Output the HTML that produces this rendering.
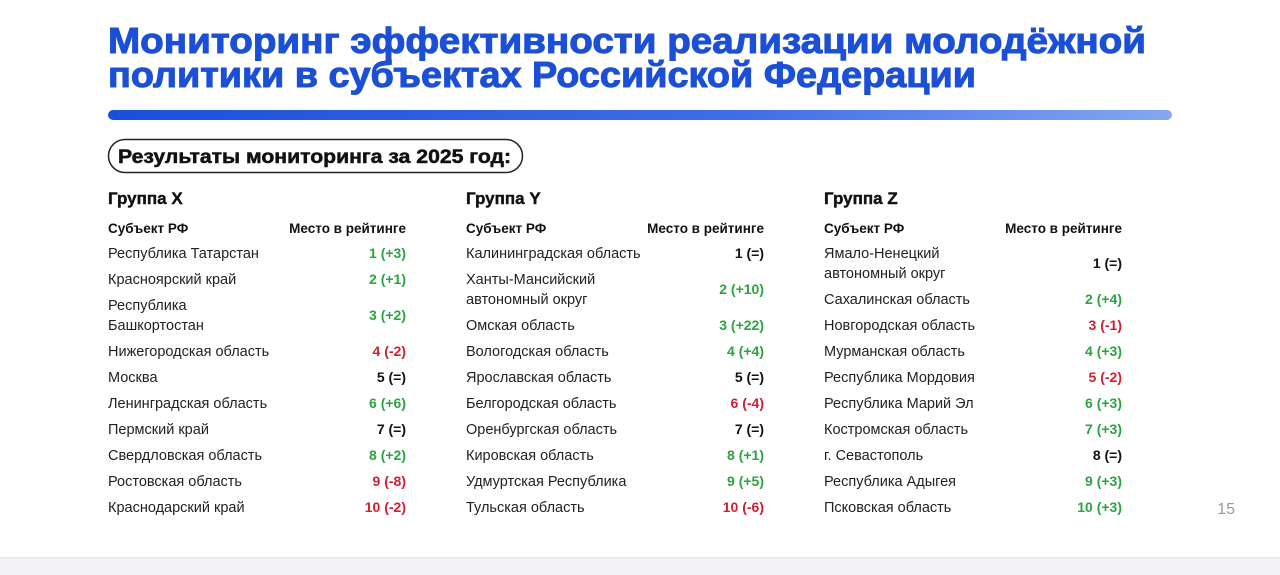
<!DOCTYPE html>
<html><head><meta charset="utf-8"><style>
html,body{margin:0;padding:0;background:#fff;}
svg{display:block;font-family:"Liberation Sans","DejaVu Sans",sans-serif;}
.r{font-size:14.5px;fill:#222;}
.v{font-size:14px;font-weight:bold;text-anchor:end;}
.g{fill:#2ca341}.d{fill:#d0202f}.k{fill:#111}
.h{font-size:13.5px;font-weight:bold;fill:#111}
.gh{font-size:17px;font-weight:bold;fill:#111;stroke:#111;stroke-width:0.4}
</style></head><body>
<svg width="1280" height="575" viewBox="0 0 1280 575" xmlns="http://www.w3.org/2000/svg">
<defs><linearGradient id="bg" x1="0" x2="1"><stop offset="0" stop-color="#1a4fd8"/><stop offset="0.6" stop-color="#3f6fe6"/><stop offset="1" stop-color="#86a6f0"/></linearGradient></defs>
<rect x="0" y="0" width="1280" height="575" fill="#fff"/>
<rect x="0" y="558" width="1280" height="17" fill="#f4f4f6"/>
<line x1="0" y1="558" x2="1280" y2="558" stroke="#e6e6ea" stroke-width="1.5"/>
<text x="108" y="53" font-size="36" font-weight="bold" fill="#1a4fd6" stroke="#1a4fd6" stroke-width="1" textLength="1038" lengthAdjust="spacingAndGlyphs">Мониторинг эффективности реализации молодёжной</text>
<text x="108" y="87" font-size="36" font-weight="bold" fill="#1a4fd6" stroke="#1a4fd6" stroke-width="1" textLength="868" lengthAdjust="spacingAndGlyphs">политики в субъектах Российской Федерации</text>
<rect x="108" y="110" width="1064" height="10" rx="5" fill="url(#bg)"/>
<rect x="108.5" y="139.5" width="414" height="33" rx="16.5" fill="none" stroke="#222" stroke-width="1.5"/>
<text x="118" y="163" font-size="19" font-weight="bold" fill="#111" stroke="#111" stroke-width="0.5" textLength="393" lengthAdjust="spacingAndGlyphs">Результаты мониторинга за 2025 год:</text>

<text class="gh" x="108" y="204">Группа X</text>
<text class="gh" x="466" y="204">Группа Y</text>
<text class="gh" x="824" y="204">Группа Z</text>
<g class="h">
<text x="108" y="233">Субъект РФ</text><text x="406" y="233" text-anchor="end">Место в рейтинге</text>
<text x="466" y="233">Субъект РФ</text><text x="764" y="233" text-anchor="end">Место в рейтинге</text>
<text x="824" y="233">Субъект РФ</text><text x="1122" y="233" text-anchor="end">Место в рейтинге</text>
</g>

<g class="r">
<text x="108" y="258">Республика Татарстан</text>
<text x="108" y="284">Красноярский край</text>
<text x="108" y="310">Республика</text>
<text x="108" y="330">Башкортостан</text>
<text x="108" y="356">Нижегородская область</text>
<text x="108" y="382">Москва</text>
<text x="108" y="408">Ленинградская область</text>
<text x="108" y="434">Пермский край</text>
<text x="108" y="460">Свердловская область</text>
<text x="108" y="486">Ростовская область</text>
<text x="108" y="512">Краснодарский край</text>
</g>
<g class="v">
<text class="g" x="406" y="258">1 (+3)</text>
<text class="g" x="406" y="284">2 (+1)</text>
<text class="g" x="406" y="320">3 (+2)</text>
<text class="d" x="406" y="356">4 (-2)</text>
<text class="k" x="406" y="382">5 (=)</text>
<text class="g" x="406" y="408">6 (+6)</text>
<text class="k" x="406" y="434">7 (=)</text>
<text class="g" x="406" y="460">8 (+2)</text>
<text class="d" x="406" y="486">9 (-8)</text>
<text class="d" x="406" y="512">10 (-2)</text>
</g>

<g class="r">
<text x="466" y="258">Калининградская область</text>
<text x="466" y="284">Ханты-Мансийский</text>
<text x="466" y="304">автономный округ</text>
<text x="466" y="330">Омская область</text>
<text x="466" y="356">Вологодская область</text>
<text x="466" y="382">Ярославская область</text>
<text x="466" y="408">Белгородская область</text>
<text x="466" y="434">Оренбургская область</text>
<text x="466" y="460">Кировская область</text>
<text x="466" y="486">Удмуртская Республика</text>
<text x="466" y="512">Тульская область</text>
</g>
<g class="v">
<text class="k" x="764" y="258">1 (=)</text>
<text class="g" x="764" y="294">2 (+10)</text>
<text class="g" x="764" y="330">3 (+22)</text>
<text class="g" x="764" y="356">4 (+4)</text>
<text class="k" x="764" y="382">5 (=)</text>
<text class="d" x="764" y="408">6 (-4)</text>
<text class="k" x="764" y="434">7 (=)</text>
<text class="g" x="764" y="460">8 (+1)</text>
<text class="g" x="764" y="486">9 (+5)</text>
<text class="d" x="764" y="512">10 (-6)</text>
</g>

<g class="r">
<text x="824" y="258">Ямало-Ненецкий</text>
<text x="824" y="278">автономный округ</text>
<text x="824" y="304">Сахалинская область</text>
<text x="824" y="330">Новгородская область</text>
<text x="824" y="356">Мурманская область</text>
<text x="824" y="382">Республика Мордовия</text>
<text x="824" y="408">Республика Марий Эл</text>
<text x="824" y="434">Костромская область</text>
<text x="824" y="460">г. Севастополь</text>
<text x="824" y="486">Республика Адыгея</text>
<text x="824" y="512">Псковская область</text>
</g>
<g class="v">
<text class="k" x="1122" y="268">1 (=)</text>
<text class="g" x="1122" y="304">2 (+4)</text>
<text class="d" x="1122" y="330">3 (-1)</text>
<text class="g" x="1122" y="356">4 (+3)</text>
<text class="d" x="1122" y="382">5 (-2)</text>
<text class="g" x="1122" y="408">6 (+3)</text>
<text class="g" x="1122" y="434">7 (+3)</text>
<text class="k" x="1122" y="460">8 (=)</text>
<text class="g" x="1122" y="486">9 (+3)</text>
<text class="g" x="1122" y="512">10 (+3)</text>
</g>
<text x="1235" y="514" font-size="16" fill="#999" text-anchor="end">15</text>
</svg>
</body></html>
